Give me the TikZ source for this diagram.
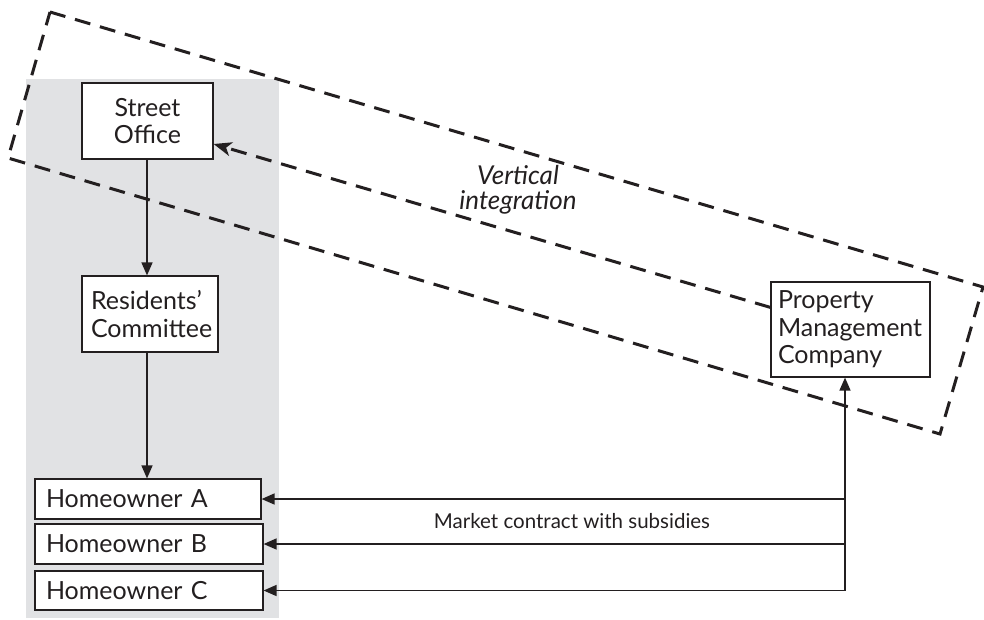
\documentclass[tikz,border=0pt]{standalone}
\usepackage{fontspec}
\setmainfont{Lato}
\usetikzlibrary{arrows.meta,calc}
\definecolor{ink}{HTML}{231F20}
\definecolor{panel}{HTML}{E1E2E4}
\begin{document}
\begin{tikzpicture}[x=1pt,y=-1pt,
  box/.style={draw=ink,line width=1.2pt,fill=white,text=ink,inner ysep=0pt,
    font=\fontsize{25}{27.5}\selectfont},
  solidarrow/.style={draw=ink,line width=1.6pt,-{Triangle[length=13pt,width=11pt]}},
  dasharrow/.style={draw=ink,line width=3pt,dash pattern=on 16pt off 10pt,
    -{Stealth[length=18pt,width=14pt,inset=5pt]}},
  dashrect/.style={draw=ink,line width=3pt,dash pattern=on 16pt off 10pt}]
\useasboundingbox (0,0) rectangle (984,619);
\fill[panel] (26,79) rectangle (279,618);
\draw[dashrect] (50,12) -- (983,287) -- (940,434) -- (8,158) -- cycle;

\node[box,minimum width=131pt,minimum height=76pt,align=center,inner xsep=2pt]
  (SO) at (147.5,121) {Street\\Office};
\node[box,minimum width=136pt,minimum height=76pt,text width=118pt,align=left,inner xsep=9pt]
  (RC) at (150,314) {Residents'\\Committee};
\node[box,minimum width=226pt,minimum height=40pt,text width=204pt,align=left,inner xsep=11pt]
  (HA) at (148,499) {Homeowner A};
\node[box,minimum width=228pt,minimum height=40pt,text width=206pt,align=left,inner xsep=11pt]
  (HB) at (149,544) {Homeowner B};
\node[box,minimum width=228pt,minimum height=39pt,text width=206pt,align=left,inner xsep=11pt]
  (HC) at (149,590.5) {Homeowner C};
\node[box,minimum width=159pt,minimum height=95pt,text width=145pt,align=left,inner xsep=7pt]
  (PM) at (850.5,329.5) {Property\\Management\\Company};

\node[text=ink,font=\fontsize{26}{25}\itshape\selectfont,align=center]
  (VI) at (518,190) {Vertical\\integration};
\node[text=ink,font=\fontsize{20.5}{22}\selectfont]
  (MC) at (572,521) {Market contract with subsidies};

\draw[dasharrow] ([yshift=-26pt]PM.north west) -- ([yshift=-23pt]SO.east);

\coordinate (top) at ([xshift=-0.5pt]SO.south);
\draw[solidarrow] (top) -- (top |- RC.north);
\draw[solidarrow] (top |- RC.south) -- (top |- HA.north);

\coordinate (pmb) at ([xshift=-5.5pt]PM.south);
\draw[solidarrow] (pmb |- HC.east) -- (pmb);
\draw[solidarrow] (pmb |- HA.east) -- (HA.east);
\draw[solidarrow] (pmb |- HB.east) -- (HB.east);
\draw[solidarrow] (pmb |- HC.east) -- (HC.east);
\end{tikzpicture}
\end{document}
